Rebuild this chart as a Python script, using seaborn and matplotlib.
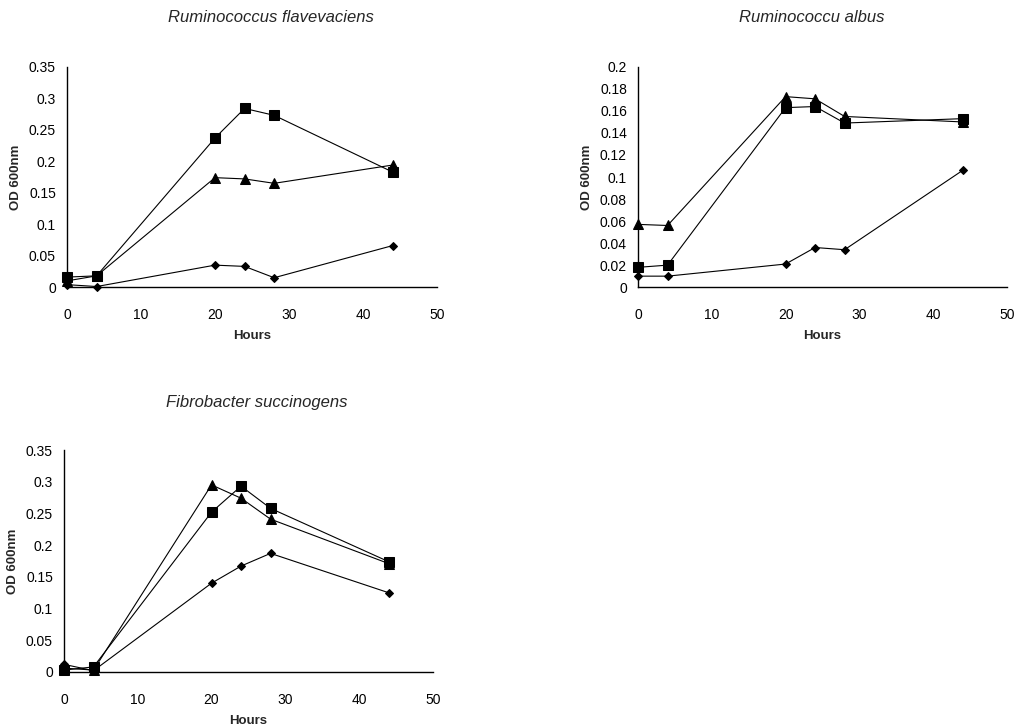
import pandas as pd
import seaborn as sns
import matplotlib
matplotlib.use('Agg')
import matplotlib.pyplot as plt
from matplotlib.ticker import FuncFormatter

# sampling times (hours)
hours = [0, 4, 20, 24, 28, 44]

# Ruminococcus flavevaciens
flav_square = [0.016, 0.018, 0.237, 0.284, 0.273, 0.183]
flav_triangle = [0.010, 0.018, 0.174, 0.172, 0.165, 0.194]
flav_diamond = [0.004, 0.001, 0.035, 0.033, 0.015, 0.066]

# Ruminococcu albus
alb_square = [0.018, 0.020, 0.163, 0.164, 0.149, 0.153]
alb_triangle = [0.057, 0.056, 0.173, 0.171, 0.155, 0.150]
alb_diamond = [0.010, 0.010, 0.021, 0.036, 0.034, 0.106]

# Fibrobacter succinogens
fib_square = [0.003, 0.008, 0.252, 0.293, 0.258, 0.174]
fib_triangle = [0.006, 0.003, 0.295, 0.274, 0.241, 0.171]
fib_diamond = [0.012, 0.002, 0.140, 0.167, 0.187, 0.125]

titles = ['Ruminococcus flavevaciens', 'Ruminococcu albus', 'Fibrobacter succinogens']


def make_df(sq, tri, dia):
    rows = []
    for name, vals in [('square', sq), ('triangle', tri), ('diamond', dia)]:
        for h, v in zip(hours, vals):
            rows.append({'Hours': h, 'OD': v, 'series': name})
    return pd.DataFrame(rows)


sns.set_style('white')
plt.rcParams['font.family'] = ['Liberation Sans', 'DejaVu Sans']

fig = plt.figure(figsize=(10.16, 7.27), dpi=100)

panels = [
    (make_df(flav_square, flav_triangle, flav_diamond), [0.066, 0.605, 0.364, 0.303], 0.35, 0.05, titles[0], 271, 18),
    (make_df(alb_square, alb_triangle, alb_diamond), [0.628, 0.605, 0.363, 0.303], 0.2, 0.02, titles[1], 812, 18),
    (make_df(fib_square, fib_triangle, fib_diamond), [0.063, 0.0757, 0.363, 0.3053], 0.35, 0.05, titles[2], 257, 402),
]

markers = {'square': 's', 'triangle': '^', 'diamond': 'D'}
sizes = {'square': 7, 'triangle': 6.5, 'diamond': 4.5}

for df, rect, ymax, ystep, title, tx, ty in panels:
    ax = fig.add_axes(rect)
    for name in ['diamond', 'triangle', 'square']:
        sub = df[df['series'] == name]
        sns.lineplot(data=sub, x='Hours', y='OD', ax=ax, color='black',
                     marker=markers[name], markersize=sizes[name],
                     markeredgecolor='black', linewidth=0.8, legend=False)
    ax.set_xlim(0, 50)
    ax.set_ylim(0, ymax)
    ax.set_xticks(range(0, 51, 10))
    n = int(round(ymax / ystep))
    ax.set_yticks([round(i * ystep, 3) for i in range(n + 1)])
    ax.yaxis.set_major_formatter(FuncFormatter(lambda v, p: '%g' % round(v, 3)))
    for s in ['top', 'right']:
        ax.spines[s].set_visible(False)
    for s in ['left', 'bottom']:
        ax.spines[s].set_color('black')
        ax.spines[s].set_linewidth(1.0)
    ax.tick_params(axis='both', direction='out', length=5, width=0.8,
                   colors='black', labelsize=10, pad=3)
    ax.tick_params(axis='x', pad=10)
    ax.set_xlabel('Hours', fontsize=9.5, fontweight='bold', labelpad=6)
    ax.set_ylabel('OD 600nm', fontsize=9.5, fontweight='bold', labelpad=5)
    ax.margins(0)
    for line in ax.lines:
        line.set_clip_on(False)
    fig.text(tx / 1016, 1 - ty / 727, title, fontsize=12, style='italic',
             ha='center', va='center')

fig.savefig('out.png', dpi=100)
